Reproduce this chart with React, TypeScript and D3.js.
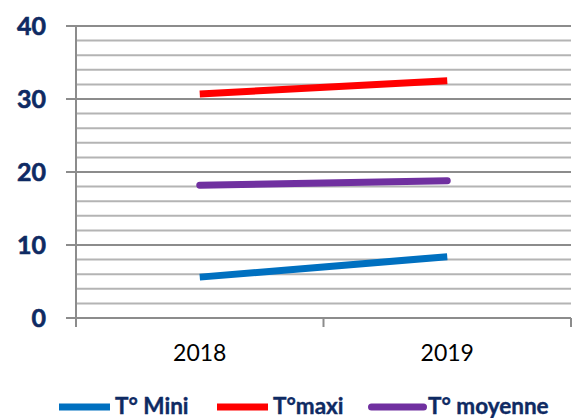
import React from "react";
import * as d3 from "d3";

const categories = ["2018", "2019"];
const seriesNames = ["T° Mini", "T°maxi", "T° moyenne"];
const miniValues = [5.6, 8.4];
const maxiValues = [30.7, 32.5];
const moyenneValues = [18.2, 18.8];
const seriesColors = ["#0070C0", "#FF0000", "#7030A0"];
const majorTicks = [0, 10, 20, 30, 40];
const minorTicks = d3.range(0, 41, 2);

const W = 574;
const H = 418;
const left = 76;
const right = 571;
const top = 26;
const bottom = 318;

export default function App() {
  const x = d3.scaleBand<string>().domain(categories).range([left, right]);
  const y = d3.scaleLinear().domain([0, 40]).range([bottom, top]);
  const line = d3
    .line<number>()
    .x((_, i) => (x(categories[i]) as number) + x.bandwidth() / 2)
    .y((d) => y(d));
  const series = [miniValues, maxiValues, moyenneValues];
  const caps = ["butt", "butt", "round"];
  const font = "Lato, 'Open Sans', sans-serif";
  const legendX = [59, 217, 368];
  const legendSw = [51, 51, 59];

  return (
    <svg
      width={W}
      height={H}
      style={{ position: "absolute", left: 0, top: 0, background: "#fff" }}
    >
      {minorTicks.map((t) => (
        <line
          key={"g" + t}
          x1={left}
          x2={right}
          y1={y(t)}
          y2={y(t)}
          stroke={t % 10 === 0 ? "#8c8c8c" : "#b4b4b4"}
          strokeWidth={2}
        />
      ))}
      <line x1={left} x2={left} y1={top} y2={bottom + 9} stroke="#8c8c8c" strokeWidth={2} />
      {majorTicks.map((t) => (
        <g key={"t" + t}>
          <line x1={66} x2={86} y1={y(t)} y2={y(t)} stroke="#8c8c8c" strokeWidth={2} />
          <text
            x={46}
            y={y(t)}
            dy="0.36em"
            textAnchor="end"
            fontFamily={font}
            fontWeight="bold"
            fontSize={25}
            fill="#0E2A63"
            stroke="#0E2A63"
            strokeWidth={0.6}
          >
            {t}
          </text>
        </g>
      ))}
      {[...categories.map((c) => x(c) as number), right].map((px, i) => (
        <line key={"xt" + i} x1={px} x2={px} y1={bottom} y2={bottom + 9} stroke="#8c8c8c" strokeWidth={2} />
      ))}
      {categories.map((c) => (
        <text
          key={c}
          x={(x(c) as number) + x.bandwidth() / 2}
          y={361}
          textAnchor="middle"
          fontFamily={font}
          fontSize={23}
          fill="#000"
        >
          {c}
        </text>
      ))}
      {series.map((vals, i) => (
        <path
          key={"s" + i}
          d={line(vals) as string}
          fill="none"
          stroke={seriesColors[i]}
          strokeWidth={7}
          strokeLinecap={caps[i] as any}
        />
      ))}
      {seriesNames.map((n, i) => (
        <g key={"l" + i}>
          <line
            x1={legendX[i] + (caps[i] === "round" ? 3.5 : 0)}
            x2={legendX[i] + legendSw[i] - (caps[i] === "round" ? 3.5 : 0)}
            y1={407}
            y2={407}
            stroke={seriesColors[i]}
            strokeWidth={7}
            strokeLinecap={caps[i] as any}
          />
          <text
            x={legendX[i] + legendSw[i] + (i === 2 ? 1 : 5)}
            y={414}
            fontFamily={font}
            fontWeight="bold"
            fontSize={22.5}
            fill="#0E2A63"
            stroke="#0E2A63"
            strokeWidth={0.4}
          >
            {n}
          </text>
        </g>
      ))}
    </svg>
  );
}
